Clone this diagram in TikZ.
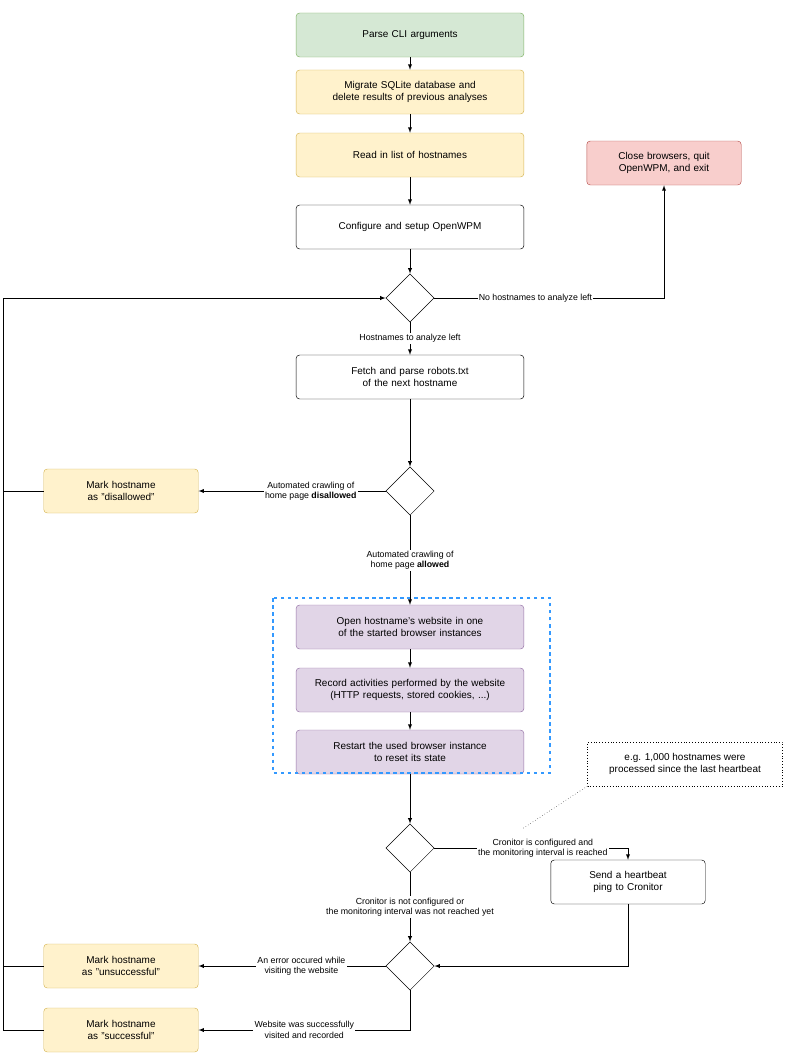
\documentclass[tikz,border=0pt]{standalone}
\usepackage{fontspec}
\setmainfont{Liberation Sans}
\usetikzlibrary{positioning,calc,shapes.geometric}
\definecolor{gfill}{HTML}{D5E8D4}\definecolor{gdraw}{HTML}{82B366}
\definecolor{yfill}{HTML}{FFF2CC}\definecolor{ydraw}{HTML}{D6B656}
\definecolor{rfill}{HTML}{F8CECC}\definecolor{rdraw}{HTML}{B85450}
\definecolor{pfill}{HTML}{E1D5E7}\definecolor{pdraw}{HTML}{9673A6}
\definecolor{bdash}{HTML}{3399FF}
\tikzset{block/.style={draw,rounded corners=3pt,text width=6.6cm,minimum height=1.32cm,align=center,font=\fontsize{8.5}{10.5}\selectfont},
         small/.style={block,text width=4.4cm},
         dec/.style={draw,diamond,aspect=1,minimum size=1.45cm,inner sep=0pt},
         lbl/.style={fill=white,inner sep=1pt,align=center,font=\fontsize{7.5}{9}\selectfont},
         arrow/.style={thick,-latex,line width=0.6pt}
}
\begin{document}
\begin{tikzpicture}[x=0.03cm,y=-0.03cm]
\useasboundingbox (0,0) rectangle (787,1064);

\node[block,fill=gfill,draw=gdraw] (parse) at (410,35) {Parse CLI arguments};
\node[block,fill=yfill,draw=ydraw] (migrate) at (410,92) {Migrate SQLite database and\\delete results of previous analyses};
\node[block,fill=yfill,draw=ydraw] (read) at (410,155) {Read in list of hostnames};
\node[block] (config) at (410,227) {Configure and setup OpenWPM};
\node[dec] (d1) at (410,298) {};
\node[small,fill=rfill,draw=rdraw] (close) at (664,163) {Close browsers, quit\\OpenWPM, and exit};
\node[block] (fetch) at (410,377) {Fetch and parse robots.txt\\of the next hostname};
\node[dec] (d2) at (410,491) {};
\node[small,fill=yfill,draw=ydraw] (disallow) at (121,491) {Mark hostname\\as "disallowed"};
\node[block,fill=pfill,draw=pdraw] (open) at (410,627) {Open hostname's website in one\\of the started browser instances};
\node[block,fill=pfill,draw=pdraw] (record) at (410,690) {Record activities performed by the website\\(HTTP requests, stored cookies, ...)};
\node[block,fill=pfill,draw=pdraw] (restart) at (410,752) {Restart the used browser instance\\to reset its state};
\draw[bdash,dashed,line width=0.9pt] (273,598) rectangle (550,773);
\node[draw,dotted,minimum width=5.85cm,minimum height=1.32cm,align=center,font=\fontsize{8.5}{10.5}\selectfont] (note) at (685,764) {e.g. 1,000 hostnames were\\processed since the last heartbeat};
\node[dec] (d3) at (410,848) {};
\node[small] (beat) at (628,882) {Send a heartbeat\\ping to Cronitor};
\node[dec] (d4) at (410,966) {};
\node[small,fill=yfill,draw=ydraw] (unsucc) at (121,966) {Mark hostname\\as "unsuccessful"};
\node[small,fill=yfill,draw=ydraw] (succ) at (121,1030) {Mark hostname\\as "successful"};
\coordinate (loop) at (3,298);

\draw[arrow] (parse)--(migrate);
\draw[arrow] (migrate)--(read);
\draw[arrow] (read)--(config);
\draw[arrow] (config)--(d1);
\draw[arrow] (d1.east)-|(close.south) node[lbl,pos=0.22] {No hostnames to analyze left};
\draw[arrow] (d1)--(fetch) node[lbl,midway] {Hostnames to analyze left};
\draw[arrow] (fetch)--(d2);
\draw[arrow] (d2)--(disallow) node[lbl,pos=0.4] {Automated crawling of\\home page \textbf{disallowed}};
\draw[arrow] (d2)--(open) node[lbl,pos=0.5] {Automated crawling of\\home page \textbf{allowed}};
\draw[arrow] (open)--(record);
\draw[arrow] (record)--(restart);
\draw[arrow] (restart)--(d3);
\draw[arrow] (d3.east)-|(beat.north) node[lbl,pos=0.28] {Cronitor is configured and\\the monitoring interval is reached};
\draw[dotted] (note.south west)--(522,829);
\draw[arrow] (d3)--(d4) node[lbl,midway] {Cronitor is not configured or\\the monitoring interval was not reached yet};
\draw[arrow] (beat.south)|-(d4.east);
\draw[arrow] (d4)--(unsucc) node[lbl,pos=0.45] {An error occured while\\visiting the website};
\draw[arrow] (d4.south)|-(succ.east) node[lbl,pos=0.75] {Website was successfully\\visited and recorded};
\draw (disallow.west)-|(loop);
\draw (unsucc.west)-|(loop);
\draw (succ.west)-|(loop);
\draw[arrow] (loop)--(d1.west);

\end{tikzpicture}
\end{document}
